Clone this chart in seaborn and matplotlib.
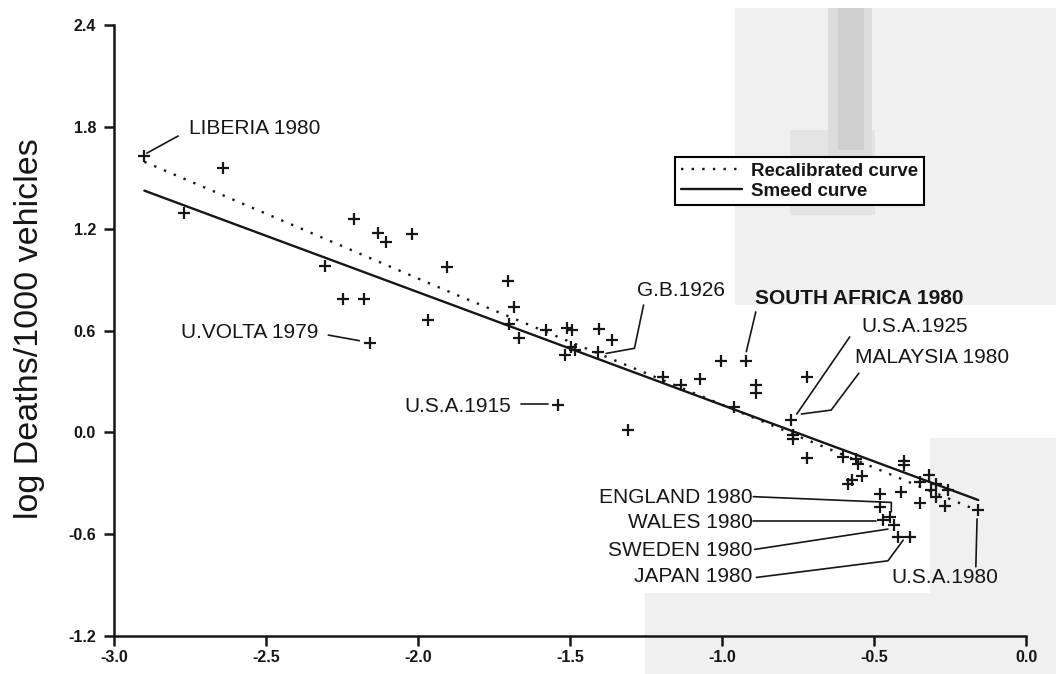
import matplotlib
matplotlib.use("Agg")
import matplotlib.pyplot as plt
import seaborn as sns
import pandas as pd
from matplotlib.lines import Line2D
from matplotlib.patches import Rectangle
from matplotlib import font_manager

# ---------------- data ----------------
log_vehicles_per_person = [
    -2.90, -2.77, -2.64, -2.305, -2.247, -2.21, -2.177, -2.132, -2.104, -2.02,
    -2.158, -1.966, -1.903, -1.705, -1.685, -1.702, -1.667, -1.579, -1.51, -1.495,
    -1.405, -1.362, -1.496, -1.485, -1.518, -1.409, -1.195, -1.136, -1.071, -1.003,
    -0.922, -0.961, -1.54, -1.308, -0.888, -0.888, -0.722, -0.774, -0.768, -0.768,
    -0.722, -0.602, -0.558, -0.553, -0.539, -0.585, -0.571, -0.401, -0.401, -0.481,
    -0.481, -0.47, -0.446, -0.434, -0.421, -0.38, -0.41, -0.349, -0.349, -0.32,
    -0.311, -0.295, -0.295, -0.267, -0.256, -0.157,
]
log_deaths_per_1000_vehicles = [
    1.63, 1.29, 1.56, 0.98, 0.785, 1.257, 0.784, 1.176, 1.12, 1.168,
    0.524, 0.662, 0.976, 0.893, 0.736, 0.638, 0.554, 0.603, 0.613, 0.603,
    0.609, 0.542, 0.501, 0.485, 0.455, 0.475, 0.328, 0.279, 0.312, 0.42,
    0.42, 0.151, 0.163, 0.013, 0.279, 0.230, 0.324, 0.074, -0.016, -0.040,
    -0.150, -0.144, -0.160, -0.185, -0.258, -0.302, -0.282, -0.166, -0.193, -0.364,
    -0.440, -0.515, -0.497, -0.546, -0.619, -0.619, -0.35, -0.418, -0.291, -0.252,
    -0.342, -0.305, -0.38, -0.432, -0.34, -0.460,
]

smeed_x = [-2.90, -0.157]
smeed_y = [1.424, -0.399]
recal_x = [-2.90, -1.90, -0.157]
recal_y = [1.594, 0.83, -0.462]

x_ticks = [-3.0, -2.5, -2.0, -1.5, -1.0, -0.5, 0.0]
x_tick_labels = ["-3.0", "-2.5", "-2.0", "-1.5", "-1.0", "-0.5", "0.0"]
y_ticks = [-1.2, -0.6, 0.0, 0.6, 1.2, 1.8, 2.4]
y_tick_labels = ["-1.2", "-0.6", "0.0", "0.6", "1.2", "1.8", "2.4"]

y_title = "log Deaths/1000 vehicles"
legend_labels = ["Recalibrated curve", "Smeed curve"]

country_labels = ["LIBERIA 1980", "U.VOLTA 1979", "G.B.1926", "SOUTH AFRICA 1980",
                  "U.S.A.1925", "MALAYSIA 1980", "U.S.A.1915", "ENGLAND 1980",
                  "WALES 1980", "SWEDEN 1980", "JAPAN 1980", "U.S.A.1980"]

# ---------------- layout of annotations (positions / leaders) ----------------
label_layout = [
    (-2.753, 1.793, "left", "normal", [(-2.789, 1.746), (-2.892, 1.645)]),
    (-2.328, 0.589, "right", "normal", [(-2.295, 0.573), (-2.193, 0.540)]),
    (-1.278, 0.833, "left", "normal", [(-1.258, 0.750), (-1.288, 0.495), (-1.381, 0.465)]),
    (-0.893, 0.790, "left", "bold", [(-0.889, 0.709), (-0.920, 0.475)]),
    (-0.540, 0.626, "left", "normal", [(-0.580, 0.562), (-0.754, 0.108)]),
    (-0.563, 0.440, "left", "normal", [(-0.550, 0.348), (-0.641, 0.131), (-0.739, 0.108)]),
    (-1.693, 0.151, "right", "normal", [(-1.661, 0.165), (-1.574, 0.165)]),
    (-0.900, -0.383, "right", "normal", [(-0.897, -0.379), (-0.443, -0.413), (-0.443, -0.468)]),
    (-0.900, -0.533, "right", "normal", [(-0.897, -0.523), (-0.493, -0.523)]),
    (-0.900, -0.694, "right", "normal", [(-0.893, -0.690), (-0.454, -0.570)]),
    (-0.900, -0.851, "right", "normal", [(-0.887, -0.855), (-0.454, -0.757), (-0.404, -0.635)]),
    (-0.443, -0.855, "left", "normal", [(-0.161, -0.510), (-0.165, -0.792)]),
]

# ---------------- figure ----------------
sns.set_theme(style="ticks")
names = {f.name for f in font_manager.fontManager.ttflist}
tick_family = "Liberation Sans Narrow" if "Liberation Sans Narrow" in names else "Liberation Sans"
plt.rcParams["font.family"] = ["Liberation Sans", "DejaVu Sans"]

INK = "#161616"
fig = plt.figure(figsize=(10.56, 6.74), dpi=100)
fig.patch.set_facecolor("white")

# scanned-page grey areas (background decoration)
def fig_rect(x0, y0, x1, y1, color):
    W, H = 1056.0, 674.0
    fig.add_artist(Rectangle((x0 / W, 1 - y1 / H), (x1 - x0) / W, (y1 - y0) / H,
                             transform=fig.transFigure, facecolor=color,
                             edgecolor="none", zorder=-10))

fig_rect(735, 8, 1056, 305, "#f0f0f0")
fig_rect(790, 130, 875, 215, "#e4e4e4")
fig_rect(828, 8, 872, 200, "#dcdcdc")
fig_rect(838, 8, 864, 150, "#cfcfcf")
fig_rect(930, 438, 1056, 674, "#f0f0f0")
fig_rect(645, 593, 1056, 674, "#f0f0f0")

ax = fig.add_axes([114 / 1056, 1 - 636 / 674, (1026 - 114) / 1056, (636 - 25) / 674])
ax.set_facecolor("none")

df = pd.DataFrame({"x": log_vehicles_per_person, "y": log_deaths_per_1000_vehicles})
sns.scatterplot(data=df, x="x", y="y", marker="+", s=75, color=INK,
                linewidth=1.6, ax=ax, zorder=3, legend=False)
sns.lineplot(x=smeed_x, y=smeed_y, color=INK, linewidth=1.7, ax=ax,
             sort=False, zorder=2)
sns.lineplot(x=recal_x, y=recal_y, color=INK, linewidth=1.7, ax=ax,
             sort=False, zorder=2, linestyle=(0, (1, 3.5)))

for text, (tx, ty, ha, wt, path) in zip(country_labels, label_layout):
    ax.text(tx, ty, text, ha=ha, va="center", fontsize=15, fontweight=wt,
            color=INK, family=["Liberation Sans", "DejaVu Sans"])
    ax.plot([p[0] for p in path], [p[1] for p in path], color=INK, lw=1.2, zorder=2)

ax.set_xlim(-3.0, 0.0)
ax.set_ylim(-1.2, 2.4)
ax.set_xticks(x_ticks)
ax.set_xticklabels(x_tick_labels)
ax.set_yticks(y_ticks)
ax.set_yticklabels(y_tick_labels)
for lab in ax.get_xticklabels() + ax.get_yticklabels():
    lab.set_family([tick_family, "DejaVu Sans"])
    lab.set_fontsize(11.5)
    lab.set_fontweight("bold")
    lab.set_color(INK)
ax.tick_params(axis="both", direction="out", length=7, width=1.8, colors=INK)
ax.tick_params(axis="x", pad=3)
ax.tick_params(axis="y", pad=6)
ax.set_xlabel("")
ax.set_ylabel(y_title, fontsize=24.5, color=INK, family=["Liberation Sans", "DejaVu Sans"])
ax.yaxis.set_label_coords(-0.076, 0.503)
sns.despine(ax=ax)
for side in ("left", "bottom"):
    ax.spines[side].set_linewidth(1.8)
    ax.spines[side].set_color(INK)

handles = [Line2D([], [], color=INK, lw=1.7, linestyle=(0, (1, 3.5))),
           Line2D([], [], color=INK, lw=1.7)]
leg = ax.legend(handles, legend_labels, loc="upper left",
                bbox_to_anchor=(0.615, 0.784), frameon=True, fancybox=False,
                edgecolor="black", facecolor="white", framealpha=1,
                prop={"family": "Liberation Sans", "size": 13.5, "weight": "bold"},
                handlelength=3.3, handletextpad=0.45, borderpad=0.3,
                labelspacing=0.15, borderaxespad=0)
leg.get_frame().set_linewidth(1.5)
for t in leg.get_texts():
    t.set_color(INK)

fig.savefig("out.png", dpi=100)
